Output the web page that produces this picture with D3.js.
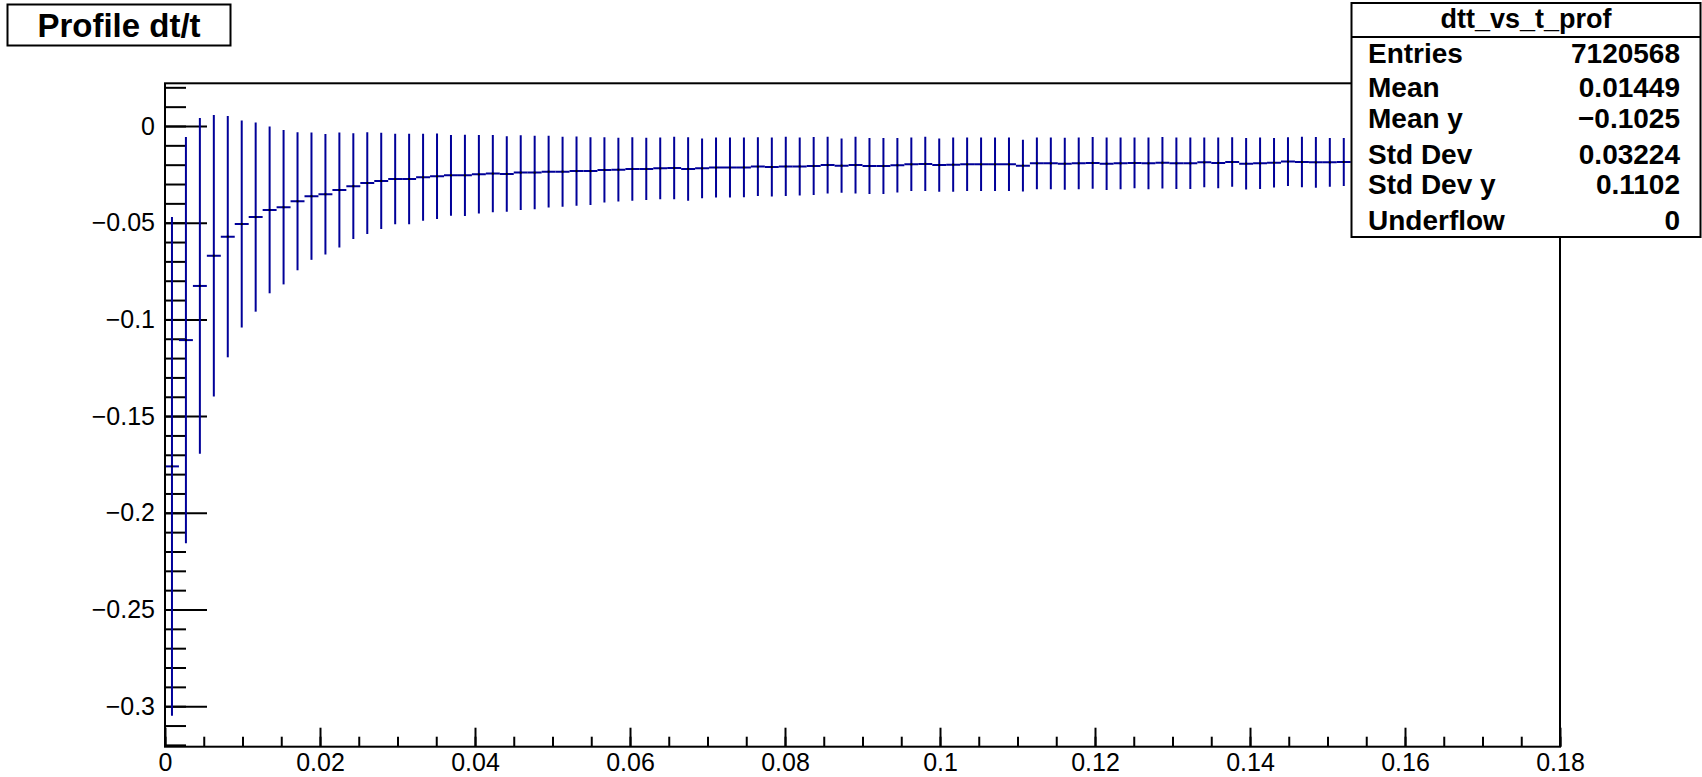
<!DOCTYPE html>
<html>
<head>
<meta charset="utf-8">
<title>Profile dt/t</title>
<script src="https://d3js.org/d3.v7.min.js"></script>
<style>
  body { margin: 0; background: #ffffff; }
  text { font-family: "Liberation Sans", Arial, Helvetica, sans-serif; }
</style>
</head>
<body>
<script>
// profile dt/t vs t : bin means and errors

var xMin = 0;
var xMax = 0.18;
var binWidth = 0.0018;   // 100 bins from 0 to 0.18, the last ones sit behind the stats box

var binMeans = [
    -0.1760, -0.1107, -0.0827, -0.0671, -0.0572, -0.0507, -0.0471, -0.0434, -0.0420, -0.0389,
    -0.0363, -0.0353, -0.0331, -0.0311, -0.0295, -0.0284, -0.0274, -0.0274, -0.0265, -0.0260,
    -0.0255, -0.0255, -0.0250, -0.0246, -0.0248, -0.0241, -0.0241, -0.0236, -0.0236, -0.0233,
    -0.0233, -0.0227, -0.0226, -0.0222, -0.0222, -0.0219, -0.0217, -0.0222, -0.0219, -0.0215,
    -0.0215, -0.0214, -0.0210, -0.0212, -0.0209, -0.0209, -0.0207, -0.0202, -0.0205, -0.0202,
    -0.0207, -0.0207, -0.0203, -0.0198, -0.0196, -0.0202, -0.0200, -0.0198, -0.0198, -0.0198,
    -0.0198, -0.0205, -0.0193, -0.0193, -0.0195, -0.0193, -0.0191, -0.0195, -0.0193, -0.0191,
    -0.0193, -0.0190, -0.0193, -0.0193, -0.0188, -0.0191, -0.0186, -0.0195, -0.0193, -0.0190,
    -0.0184, -0.0186, -0.0188, -0.0188, -0.0186
];

var binErrors = [
    0.1290, 0.1050, 0.0868, 0.0728, 0.0624, 0.0535, 0.0489, 0.0431, 0.0399, 0.0357,
    0.0329, 0.0312, 0.0297, 0.0273, 0.0263, 0.0249, 0.0234, 0.0234, 0.0225, 0.0221,
    0.0209, 0.0210, 0.0203, 0.0200, 0.0195, 0.0193, 0.0190, 0.0185, 0.0181, 0.0179,
    0.0175, 0.0169, 0.0165, 0.0164, 0.0161, 0.0160, 0.0162, 0.0164, 0.0155, 0.0155,
    0.0155, 0.0155, 0.0152, 0.0153, 0.0153, 0.0150, 0.0150, 0.0147, 0.0140, 0.0147,
    0.0145, 0.0145, 0.0141, 0.0138, 0.0140, 0.0138, 0.0140, 0.0138, 0.0138, 0.0138,
    0.0138, 0.0134, 0.0134, 0.0134, 0.0134, 0.0134, 0.0134, 0.0136, 0.0134, 0.0131,
    0.0134, 0.0133, 0.0133, 0.0133, 0.0129, 0.0131, 0.0128, 0.0133, 0.0133, 0.0128,
    0.0126, 0.0131, 0.0131, 0.0126, 0.0124
];

var xTickValues = [0, 0.02, 0.04, 0.06, 0.08, 0.1, 0.12, 0.14, 0.16, 0.18];
var xTickLabels = ["0", "0.02", "0.04", "0.06", "0.08", "0.1", "0.12", "0.14", "0.16", "0.18"];
var yTickValues = [0, -0.05, -0.1, -0.15, -0.2, -0.25, -0.3];
var yTickLabels = ["0", "\u22120.05", "\u22120.1", "\u22120.15", "\u22120.2", "\u22120.25", "\u22120.3"];

var statNames = ["Entries", "Mean", "Mean y", "Std Dev", "Std Dev y", "Underflow"];
var statValues = ["7120568", "0.01449", "\u22120.1025", "0.03224", "0.1102", "0"];

var titleText = "Profile dt/t";
var statsTitle = "dtt_vs_t_prof";

function init() {
    var w = 1702;
    var h = 777;
    var frame = { left: 165, right: 1560, top: 83.3, bottom: 746.7 };
    var ink = "#000099";

    var svg = d3.select("body")
                .append("svg")
                .attr("width", w)
                .attr("height", h);

    var xScale = d3.scaleLinear()
                   .domain([xMin, xMax])
                   .range([frame.left, frame.right]);

    var yScale = d3.scaleLinear()
                   .domain([-0.32094, 0.02208])
                   .range([frame.bottom, frame.top]);

    // bins as objects
    var bins = binMeans.map(function (m, i) {
        return { lo: xMin + i * binWidth, hi: xMin + (i + 1) * binWidth, mean: m, err: binErrors[i] };
    });

    // minor ticks
    var xMinor = d3.range(0, 37).map(function (i) { return i * 0.005; });
    var yMinor = d3.range(-32, 3).map(function (i) { return i * 0.01; });

    svg.append("g")
        .attr("transform", "translate(0," + frame.bottom + ")")
        .call(d3.axisBottom(xScale).tickValues(xMinor).tickSize(-10).tickFormat(""))
        .call(function (g) { g.select(".domain").remove(); });

    svg.append("g")
        .attr("class", "x axis")
        .attr("transform", "translate(0," + frame.bottom + ")")
        .call(d3.axisBottom(xScale)
                .tickValues(xTickValues)
                .tickSize(-19)
                .tickPadding(7)
                .tickFormat(function (d, i) { return xTickLabels[i]; }))
        .call(function (g) { g.select(".domain").remove(); });

    svg.append("g")
        .attr("transform", "translate(" + frame.left + ",0)")
        .call(d3.axisLeft(yScale).tickValues(yMinor).tickSize(-21).tickFormat(""))
        .call(function (g) { g.select(".domain").remove(); });

    svg.append("g")
        .attr("class", "y axis")
        .attr("transform", "translate(" + frame.left + ",0)")
        .call(d3.axisLeft(yScale)
                .tickValues(yTickValues)
                .tickSize(-42)
                .tickPadding(10)
                .tickFormat(function (d, i) { return yTickLabels[i]; }))
        .call(function (g) { g.select(".domain").remove(); });

    svg.selectAll(".tick line")
        .attr("stroke", "#000")
        .attr("stroke-width", 2);
    svg.selectAll(".tick text")
        .attr("fill", "#000")
        .attr("font-size", "25px")
        .attr("font-family", "'Liberation Sans', Arial, Helvetica, sans-serif");

    // data, clipped to the frame
    svg.append("clipPath")
        .attr("id", "frameClip")
        .append("rect")
        .attr("x", frame.left)
        .attr("y", frame.top)
        .attr("width", frame.right - frame.left)
        .attr("height", frame.bottom - frame.top);

    var plot = svg.append("g").attr("clip-path", "url(#frameClip)");

    // vertical error bars
    plot.selectAll("line.err")
        .data(bins)
        .enter()
        .append("line")
        .attr("class", "err")
        .attr("x1", function (d) { return xScale((d.lo + d.hi) / 2); })
        .attr("x2", function (d) { return xScale((d.lo + d.hi) / 2); })
        .attr("y1", function (d) { return yScale(d.mean + d.err); })
        .attr("y2", function (d) { return yScale(d.mean - d.err); })
        .attr("stroke", ink)
        .attr("stroke-width", 2);

    // horizontal bin width bars at the mean
    plot.selectAll("line.bin")
        .data(bins)
        .enter()
        .append("line")
        .attr("class", "bin")
        .attr("x1", function (d) { return xScale(d.lo); })
        .attr("x2", function (d) { return xScale(d.hi); })
        .attr("y1", function (d) { return yScale(d.mean); })
        .attr("y2", function (d) { return yScale(d.mean); })
        .attr("stroke", ink)
        .attr("stroke-width", 2);

    // small black markers
    plot.selectAll("rect.marker")
        .data(bins)
        .enter()
        .append("rect")
        .attr("class", "marker")
        .attr("x", function (d) { return xScale((d.lo + d.hi) / 2) - 1; })
        .attr("y", function (d) { return yScale(d.mean) - 1; })
        .attr("width", 2)
        .attr("height", 2)
        .attr("fill", "#000");

    // frame
    svg.append("rect")
        .attr("x", frame.left)
        .attr("y", frame.top)
        .attr("width", frame.right - frame.left)
        .attr("height", frame.bottom - frame.top)
        .attr("fill", "none")
        .attr("stroke", "#000")
        .attr("stroke-width", 2);

    // title box
    svg.append("rect")
        .attr("x", 7.5)
        .attr("y", 4.5)
        .attr("width", 223)
        .attr("height", 41)
        .attr("fill", "#fff")
        .attr("stroke", "#000")
        .attr("stroke-width", 2);

    svg.append("text")
        .attr("x", 119)
        .attr("y", 37)
        .attr("text-anchor", "middle")
        .attr("font-size", "33px")
        .attr("font-weight", "bold")
        .text(titleText);

    // stats box
    var sb = { x: 1351.5, y: 3, w: 349, h: 234 };
    svg.append("rect")
        .attr("x", sb.x)
        .attr("y", sb.y)
        .attr("width", sb.w)
        .attr("height", sb.h)
        .attr("fill", "#fff")
        .attr("stroke", "#000")
        .attr("stroke-width", 2);

    svg.append("line")
        .attr("x1", sb.x)
        .attr("x2", sb.x + sb.w)
        .attr("y1", 37)
        .attr("y2", 37)
        .attr("stroke", "#000")
        .attr("stroke-width", 2);

    svg.append("text")
        .attr("x", 1526)
        .attr("y", 28)
        .attr("text-anchor", "middle")
        .attr("font-size", "27px")
        .attr("font-weight", "bold")
        .text(statsTitle);

    var rowY = [63, 97, 128, 164, 194, 230];

    svg.selectAll("text.statName")
        .data(statNames)
        .enter()
        .append("text")
        .attr("class", "statName")
        .attr("x", 1368)
        .attr("y", function (d, i) { return rowY[i]; })
        .attr("font-size", "28px")
        .attr("font-weight", "bold")
        .text(function (d) { return d; });

    svg.selectAll("text.statValue")
        .data(statValues)
        .enter()
        .append("text")
        .attr("class", "statValue")
        .attr("x", 1680)
        .attr("y", function (d, i) { return rowY[i]; })
        .attr("text-anchor", "end")
        .attr("font-size", "28px")
        .attr("font-weight", "bold")
        .text(function (d) { return d; });
}

window.onload = init;
</script>
</body>
</html>
